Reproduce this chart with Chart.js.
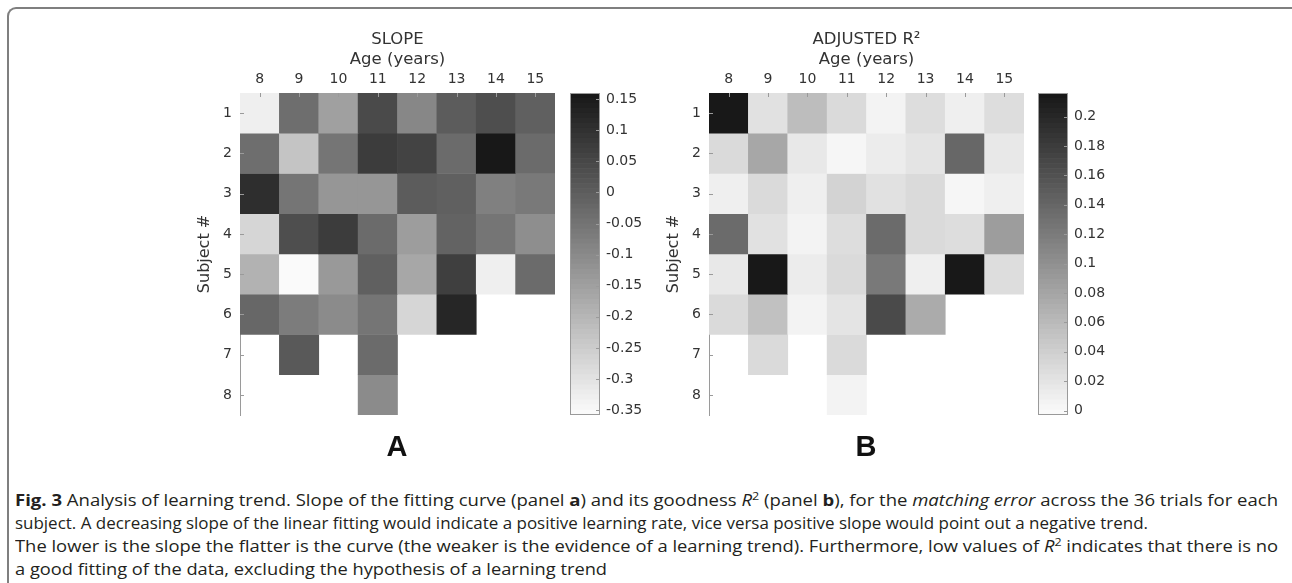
<!DOCTYPE html>
<html><head><meta charset="utf-8">
<script src="https://cdn.jsdelivr.net/npm/chart.js@4.4.0/dist/chart.umd.min.js"></script>
<style>
html,body{margin:0;padding:0;background:#fff;width:1292px;height:583px;overflow:hidden;}
.frame{position:absolute;left:7px;top:7px;width:1400px;height:700px;border-left:2px solid #7f7f7f;border-top:2px solid #7f7f7f;border-top-left-radius:9px;}
canvas{position:absolute;}
.panel{position:absolute;font-family:"Liberation Sans",Arial,sans-serif;font-weight:bold;font-size:29px;line-height:29px;color:#111;transform:translateX(-50%);}
#caption{position:absolute;left:15px;top:489px;font-family:"Open Sans",sans-serif;font-size:16px;line-height:23px;color:#231f20;white-space:nowrap;}
#caption div{white-space:nowrap;transform-origin:0 0;width:max-content;}
sup{font-size:0.68em;line-height:0;vertical-align:0.55em}
</style></head>
<body>
<div class="frame"></div>
<canvas id="heatA" width="405" height="440" style="left:150px;top:0px"></canvas>
<canvas id="barA" width="90" height="362" style="left:570px;top:73px"></canvas>
<canvas id="heatB" width="405" height="440" style="left:619px;top:0px"></canvas>
<canvas id="barB" width="90" height="362" style="left:1038px;top:73px"></canvas>
<div class="panel" style="left:397px;top:432px">A</div>
<div class="panel" style="left:866px;top:432px">B</div>
<div id="caption">
<div data-w="1263"><b>Fig. 3</b> Analysis of learning trend. Slope of the fitting curve (panel <b>a</b>) and its goodness <i>R</i><sup>2</sup> (panel <b>b</b>), for the <i>matching error</i> across the 36 trials for each</div>
<div data-w="1133">subject. A decreasing slope of the linear fitting would indicate a positive learning rate, vice versa positive slope would point out a negative trend.</div>
<div data-w="1263">The lower is the slope the flatter is the curve (the weaker is the evidence of a learning trend). Furthermore, low values of <i>R</i><sup>2</sup> indicates that there is no</div>
<div data-w="592">a good fitting of the data, excluding the hypothesis of a learning trend</div>
</div>
<script>
// ---- data ----
const ages = ['8','9','10','11','12','13','14','15'];
const subjects = [1,2,3,4,5,6,7,8];

const slopeSubj1 = [-0.326, -0.037, -0.152, 0.046, -0.094, 0.000, 0.036, -0.009];
const slopeSubj2 = [-0.042, -0.234, -0.051, 0.078, 0.059, -0.028, 0.160, -0.033];
const slopeSubj3 = [0.110, -0.055, -0.124, -0.124, 0.004, -0.009, -0.078, -0.065];
const slopeSubj4 = [-0.271, 0.032, 0.073, -0.028, -0.143, -0.014, -0.051, -0.115];
const slopeSubj5 = [-0.189, -0.353, -0.133, -0.005, -0.170, 0.068, -0.326, -0.033];
const slopeSubj6 = [-0.019, -0.069, -0.106, -0.051, -0.276, 0.123, null, null];
const slopeSubj7 = [null, 0.009, null, -0.033, null, null, null, null];
const slopeSubj8 = [null, null, null, -0.106, null, null, null, null];

const r2Subj1 = [0.216, 0.023, 0.057, 0.029, 0.006, 0.027, 0.010, 0.025];
const r2Subj2 = [0.029, 0.078, 0.017, 0.002, 0.011, 0.019, 0.138, 0.017];
const r2Subj3 = [0.010, 0.031, 0.010, 0.038, 0.023, 0.029, 0.002, 0.008];
const r2Subj4 = [0.136, 0.023, 0.004, 0.025, 0.136, 0.029, 0.027, 0.086];
const r2Subj5 = [0.015, 0.216, 0.011, 0.029, 0.122, 0.008, 0.216, 0.025];
const r2Subj6 = [0.031, 0.052, 0.006, 0.019, 0.166, 0.075, null, null];
const r2Subj7 = [null, 0.029, null, 0.029, null, null, null, null];
const r2Subj8 = [null, null, null, 0.006, null, null, null, null];

const slopeTicks = [0.15, 0.1, 0.05, 0, -0.05, -0.1, -0.15, -0.2, -0.25, -0.3, -0.35];
const r2Ticks = [0.2, 0.18, 0.16, 0.14, 0.12, 0.1, 0.08, 0.06, 0.04, 0.02, 0];
const slopeRange = [-0.358, 0.16];
const r2Range = [-0.003, 0.216];

const slopeRows = [slopeSubj1, slopeSubj2, slopeSubj3, slopeSubj4, slopeSubj5, slopeSubj6, slopeSubj7, slopeSubj8];
const r2Rows = [r2Subj1, r2Subj2, r2Subj3, r2Subj4, r2Subj5, r2Subj6, r2Subj7, r2Subj8];

// ---- styling ----
Chart.defaults.font.family = '"DejaVu Sans", Verdana, sans-serif';
Chart.defaults.font.size = 14;
Chart.defaults.color = '#333';
const AXIS = '#9a9a9a';
const NLEV = 64;

function levelGray(idx){ const g = Math.round(250 - idx/(NLEV-1)*226); return `rgb(${g},${g},${g})`; }
function grayColor(v, lo, hi){
  let t = (v-lo)/(hi-lo); t = Math.min(1, Math.max(0, t));
  return levelGray(Math.min(NLEV-1, Math.floor(t*NLEV)));
}

const innerTicks = {
  id:'innerTicks',
  afterDatasetsDraw(chart){
    const {ctx, chartArea:a, scales:{x,y}} = chart;
    ctx.save(); ctx.strokeStyle = AXIS; ctx.lineWidth = 1; ctx.beginPath();
    x.ticks.forEach((t,i)=>{const px=Math.round(x.getPixelForTick(i))+0.5; ctx.moveTo(px,a.top); ctx.lineTo(px,a.top+4);});
    y.ticks.forEach((t,i)=>{const py=Math.round(y.getPixelForTick(i))+0.5; ctx.moveTo(a.left,py); ctx.lineTo(a.left+4,py);});
    ctx.stroke(); ctx.restore();
  }
};

function heatmap(id, rows, range, title){
  const datasets = rows.map((vals, r) => ({
    label: 'Subject ' + subjects[r],
    data: vals.map(v => v === null ? null : [subjects[r]-0.5, subjects[r]+0.5]),
    backgroundColor: vals.map(v => v === null ? 'rgba(0,0,0,0)' : grayColor(v, range[0], range[1])),
    borderWidth: 0
  }));
  return new Chart(document.getElementById(id), {
    type:'bar',
    data:{labels: ages, datasets},
    options:{
      responsive:false, animation:false, events:[],
      layout:{padding:{top:0, left:0, right:0, bottom:25}},
      datasets:{bar:{grouped:false, barPercentage:1, categoryPercentage:1}},
      plugins:{legend:{display:false}, tooltip:{enabled:false}},
      scales:{
        x:{type:'category', position:'top', offset:true,
           grid:{display:true, drawOnChartArea:false, drawTicks:false},
           border:{display:true, color:AXIS, width:1},
           ticks:{padding:5, color:'#333', maxRotation:0},
           title:{display:true, text:[title,'Age (years)'], color:'#333', font:{size:16.5, lineHeight:1.2}, padding:{top:30, bottom:0}},
           afterFit(s){ s.height = 93; }},
        y:{type:'linear', reverse:true, min:0.5, max:8.5,
           afterBuildTicks(s){ s.ticks = subjects.map(v => ({value:v})); },
           grid:{display:true, drawOnChartArea:false, drawTicks:false},
           border:{display:true, color:AXIS, width:1},
           ticks:{padding:8, color:'#333', callback:v => String(v)},
           title:{display:true, text:'Subject #', color:'#333', font:{size:16, lineHeight:1.2}, padding:{top:45, bottom:0}},
           afterFit(s){ s.width = 90; }}
      }
    },
    plugins:[innerTicks]
  });
}

const cbFrame = {
  id:'cbFrame',
  afterDatasetsDraw(chart){
    const {ctx, chartArea:a, scales:{y}} = chart;
    ctx.save(); ctx.strokeStyle = AXIS; ctx.lineWidth = 1;
    ctx.strokeRect(Math.round(a.left)+0.5, Math.round(a.top)+0.5, Math.round(a.right-a.left)-1, Math.round(a.bottom-a.top)-1);
    ctx.beginPath();
    y.ticks.forEach((t,i)=>{const py=Math.round(y.getPixelForTick(i))+0.5; ctx.moveTo(a.right-4,py); ctx.lineTo(a.right,py);});
    ctx.stroke(); ctx.restore();
  }
};

function colorbar(id, range, ticks){
  const step = (range[1]-range[0])/NLEV;
  const datasets = [];
  for (let i=0;i<NLEV;i++){
    datasets.push({data:[[range[0]+i*step, range[0]+(i+1)*step]], backgroundColor: levelGray(i), borderWidth:0});
  }
  return new Chart(document.getElementById(id), {
    type:'bar',
    data:{labels:[''], datasets},
    options:{
      responsive:false, animation:false, events:[],
      layout:{padding:{top:20, bottom:20, left:0, right:0}},
      datasets:{bar:{grouped:false, barPercentage:1, categoryPercentage:1}},
      plugins:{legend:{display:false}, tooltip:{enabled:false}},
      scales:{
        x:{display:false},
        y:{position:'right', min:range[0], max:range[1],
           afterBuildTicks(s){ s.ticks = ticks.map(v => ({value:v})); },
           grid:{display:false, drawTicks:false},
           border:{display:false},
           ticks:{padding:6, color:'#333', callback:v => String(v)},
           afterFit(s){ s.width = 60; }}
      }
    },
    plugins:[cbFrame]
  });
}

heatmap('heatA', slopeRows, slopeRange, 'SLOPE');
colorbar('barA', slopeRange, slopeTicks);
heatmap('heatB', r2Rows, r2Range, 'ADJUSTED R\u00B2');
colorbar('barB', r2Range, r2Ticks);

// fit caption lines to their widths in the figure
function fitCaption(){
  document.querySelectorAll('#caption div').forEach(d => {
    d.style.transform = 'none';
    const w = d.getBoundingClientRect().width;
    d.style.transform = `scaleX(${(+d.dataset.w) / w})`;
  });
}
fitCaption();
if (document.fonts && document.fonts.ready) document.fonts.ready.then(fitCaption);
</script>
</body></html>
